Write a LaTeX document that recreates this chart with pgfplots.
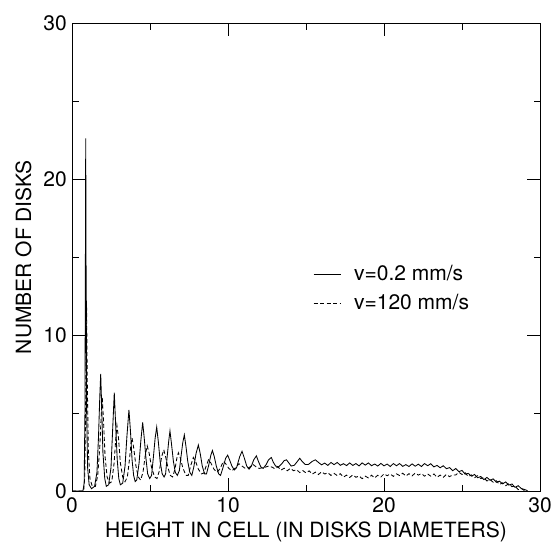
\documentclass[border=0pt]{standalone}
\usepackage{pgfplots}
\pgfplotsset{compat=1.18}
\usepackage{fontspec}
\setmainfont{TeX Gyre Heros}
\begin{document}
\fontsize{21}{25}\selectfont
\begin{tikzpicture}
\path[use as bounding box] (-72pt,-56pt) rectangle (481pt,491pt);
\begin{axis}[
  scale only axis, width=468pt, height=468pt,
  xmin=0, xmax=30, ymin=0, ymax=30,
  xtick={0,10,20,30}, ytick={0,10,20,30},
  minor tick num=1,
  tick align=inside, tickpos=both,
  major tick length=13pt, minor tick length=6.5pt,
  every tick/.style={black, line width=0.8pt},
  axis line style={line width=0.8pt},
  /pgf/number format/assume math mode=true,
  ticklabel style={font=\fontsize{21}{25}\selectfont},
  xticklabel style={yshift=1pt},
  yticklabel style={xshift=2pt},
  xlabel={HEIGHT IN CELL (IN DISKS DIAMETERS)},
  ylabel={NUMBER OF DISKS},
  xlabel style={at={(axis description cs:0.5,-0.0876)}, anchor=center, font=\fontsize{21}{25}\selectfont},
  ylabel style={at={(axis description cs:-0.1036,0.5)}, anchor=center, rotate=0, font=\fontsize{21}{25}\selectfont},
  legend image code/.code={\draw[#1] (0pt,0pt) -- (27pt,0pt);},
  legend style={at={(axis description cs:0.515,0.485)}, anchor=north west, draw=none, fill=none,
    inner sep=0pt, row sep=8pt, nodes={inner sep=0pt, anchor=west, text height=16pt, text depth=5pt},
    /tikz/every odd column/.append style={column sep=13pt},
    font=\fontsize{21}{25}\selectfont},
  legend cell align=left,
]
\addplot[black, line width=0.85pt] coordinates {
(0,0) (0.7,0) (0.78,0.5) (0.83,5) (0.86,15) (0.88,22.6) (0.90,15) (0.94,5) (1.0,1.5) (1.1,0.4) (1.25,0.15) (1.45,0.3) (1.6,1.2) (1.7,3.5) (1.78,6) (1.84,7.5) (1.9,5.5) (1.98,2.5) (2.1,0.8) (2.2,0.3) (2.35,0.4) (2.5,1.5) (2.6,3.8) (2.71,6.3) (2.8,4.2) (2.9,2.0) (3.0,0.8) (3.1,0.4) (3.25,0.5) (3.4,1.6) (3.52,3.5) (3.65,5.2) (3.75,3.8) (3.85,2.0) (3.95,1.0) (4.05,0.6) (4.15,0.7) (4.3,1.8) (4.42,3.3) (4.53,4.4) (4.63,3.4) (4.75,2.0) (4.85,1.1) (4.98,0.8) (5.1,1.0) (5.22,2.2) (5.33,3.4) (5.43,4.1) (5.53,3.2) (5.65,1.9) (5.78,1.1) (5.9,0.9) (6.0,1.1) (6.1,2.2) (6.2,3.2) (6.28,3.85) (6.38,3.0) (6.5,1.9) (6.62,1.2) (6.75,1.0) (6.88,1.3) (7.0,2.3) (7.1,3.1) (7.2,3.6) (7.3,2.9) (7.42,1.9) (7.55,1.2) (7.68,1.0) (7.8,1.5) (7.95,2.4) (8.1,2.95) (8.22,2.4) (8.35,1.6) (8.5,1.1) (8.62,1.1) (8.75,1.6) (8.9,2.3) (9.0,2.6) (9.12,2.2) (9.25,1.6) (9.4,1.1) (9.52,1.0) (9.65,1.4) (9.85,2.1) (9.98,2.3) (10.1,2.0) (10.25,1.6) (10.4,1.35) (10.55,1.5) (10.75,2.2) (10.9,2.55) (11.05,2.1) (11.2,1.6) (11.35,1.4) (11.5,1.6) (11.65,2.0) (11.82,2.25) (11.95,1.9) (12.1,1.55) (12.25,1.45) (12.45,1.7) (12.6,2.0) (12.78,2.15) (12.9,1.85) (13.05,1.6) (13.25,1.55) (13.45,1.75) (13.6,1.95) (13.75,2.0) (13.9,1.8) (14.05,1.6) (14.25,1.65) (14.45,1.9) (14.6,2.1) (14.75,1.9) (14.95,1.7) (15.15,1.7) (15.4,1.9) (15.6,2.0)
(15.8,1.83) (16.0,1.68) (16.2,1.79) (16.4,1.64) (16.6,1.83) (16.8,1.69) (17.0,1.83) (17.2,1.65) (17.4,1.75) (17.6,1.63) (17.8,1.80) (18.0,1.64) (18.2,1.76) (18.4,1.61) (18.6,1.80) (18.8,1.66) (19.0,1.80) (19.2,1.62) (19.4,1.73) (19.6,1.60) (19.8,1.77) (20.0,1.61) (20.2,1.73) (20.4,1.57) (20.6,1.76) (20.8,1.62) (21.0,1.76) (21.2,1.58) (21.4,1.69) (21.6,1.57) (21.8,1.74) (22.0,1.59) (22.2,1.72) (22.4,1.57) (22.6,1.76) (22.8,1.62) (23.0,1.75) (23.2,1.55) (23.4,1.64) (23.6,1.49) (23.8,1.62) (24.0,1.43) (24.2,1.50) (24.4,1.30) (24.6,1.44) (24.8,1.24) (25.0,1.32) (25.2,1.08) (25.4,1.13) (25.6,0.95) (25.8,1.06) (26.0,0.85) (26.2,0.93) (26.4,0.73) (26.6,0.87) (26.8,0.69) (27.0,0.78) (27.2,0.56) (27.4,0.63) (27.6,0.46) (27.8,0.58) (28.0,0.38) (28.2,0.45) (28.4,0.24) (28.6,0.34) (28.8,0.16) (29.0,0.1) (29.2,0.02)
};
\addlegendentry{v=0.2 mm/s}
\addplot[black, line width=0.85pt, dash pattern=on 4pt off 2.5pt] coordinates {
(0,0) (0.75,0) (0.82,1) (0.88,6) (0.93,12.2) (0.98,7) (1.05,2.5) (1.15,0.8) (1.3,0.3) (1.5,0.3) (1.65,1.0) (1.78,2.8) (1.88,5) (1.94,6.0) (2.02,4.5) (2.12,2.2) (2.25,0.9) (2.4,0.5) (2.55,0.6) (2.7,1.8) (2.8,3.3) (2.88,4.2) (2.98,3.4) (3.1,1.8) (3.25,0.9) (3.4,0.6) (3.55,0.9) (3.68,2.0) (3.78,3.0) (3.85,3.4) (3.95,2.8) (4.1,1.6) (4.25,0.9) (4.4,0.7) (4.55,1.2) (4.7,2.3) (4.82,2.9) (4.95,2.4) (5.1,1.5) (5.3,0.9) (5.45,0.8) (5.6,1.3) (5.75,2.2) (5.88,2.65) (6.0,2.2) (6.15,1.5) (6.3,1.0) (6.45,0.9) (6.6,1.4) (6.72,2.1) (6.82,2.45) (6.95,2.1) (7.1,1.5) (7.3,1.0) (7.45,1.0) (7.6,1.6) (7.78,2.15) (7.92,1.9) (8.1,1.4) (8.3,1.1) (8.45,1.15) (8.6,1.6) (8.75,2.0) (8.9,1.8) (9.1,1.4) (9.3,1.2) (9.5,1.45) (9.7,1.9) (9.85,1.75) (10.05,1.45) (10.25,1.3) (10.5,1.5) (10.7,1.75) (10.9,1.6) (11.1,1.45) (11.35,1.5) (11.6,1.7) (11.8,1.55) (12.0,1.45) (12.3,1.5) (12.6,1.6) (12.85,1.52)
(13.0,1.42) (13.2,1.55) (13.4,1.34) (13.6,1.46) (13.8,1.30) (14.0,1.45) (14.2,1.30) (14.4,1.37) (14.6,1.18) (14.8,1.31) (15.0,1.16) (15.2,1.29) (15.4,1.08) (15.6,1.21) (15.8,1.06) (16.0,1.23) (16.2,1.09) (16.4,1.17) (16.6,1.00) (16.8,1.13) (17.0,0.99) (17.2,1.11) (17.4,0.89) (17.6,1.02) (17.8,0.87) (18.0,1.03) (18.2,0.88) (18.4,0.96) (18.6,0.79) (18.8,0.95) (19.0,0.84) (19.2,1.01) (19.4,0.84) (19.6,1.01) (19.8,0.90) (20.0,1.10) (20.2,0.98) (20.4,1.09) (20.6,0.94) (20.8,1.10) (21.0,0.99) (21.2,1.14) (21.4,0.96) (21.6,1.11) (21.8,0.97) (22.0,1.15) (22.2,1.02) (22.4,1.12) (22.6,0.95) (22.8,1.09) (23.0,0.95) (23.2,1.09) (23.4,0.88) (23.6,1.02) (23.8,0.88) (24.0,1.06) (24.2,0.92) (24.4,1.03) (24.6,1.03) (24.8,1.20) (25.0,1.06) (25.2,1.17) (25.4,0.93) (25.6,1.03) (25.8,0.85) (26.0,0.98) (26.2,0.80) (26.4,0.85) (26.6,0.64) (26.8,0.74) (27.0,0.56) (27.2,0.66) (27.4,0.42) (27.6,0.52) (27.8,0.34) (28.0,0.47) (28.2,0.28) (28.4,0.32) (28.6,0.09) (28.8,0.16) (29.0,0.03)
};
\addlegendentry{v=120 mm/s}
\end{axis}
\end{tikzpicture}
\end{document}
